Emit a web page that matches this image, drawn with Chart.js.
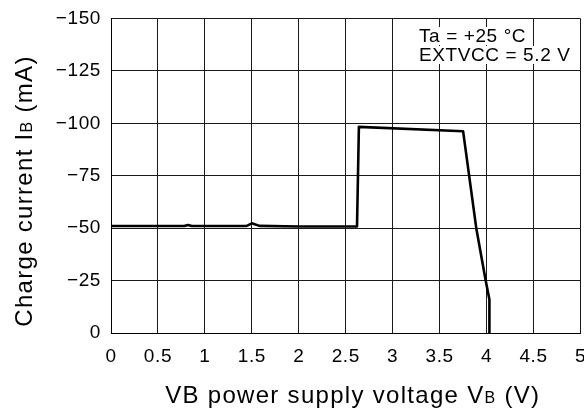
<!DOCTYPE html>
<html>
<head>
<meta charset="utf-8">
<script src="https://cdn.jsdelivr.net/npm/chart.js@4/dist/chart.umd.min.js"></script>
<style>
  html, body { margin: 0; padding: 0; background: #fff; }
  #wrap { width: 584px; height: 413px; position: relative; }
</style>
</head>
<body>
<div id="wrap"><canvas id="chart"></canvas></div>
<script>
// charge current vs supply voltage
const voltage = [0, 0.78, 0.82, 0.86, 1.44, 1.5, 1.58, 2.0, 2.62, 2.64, 3.75, 3.89, 3.99, 4.03, 4.03]
const current = [-51, -51, -51.5, -51, -51, -52.3, -51.1, -50.8, -50.8, -98.3, -96.2, -50, -25, -16, 0]
const xTicks = [0, 0.5, 1, 1.5, 2, 2.5, 3, 3.5, 4, 4.5, 5]
const yTicks = [0, -25, -50, -75, -100, -125, -150]
const noteLines = ['Ta = +25 °C', 'EXTVCC = 5.2 V']

const FONT = '"Liberation Sans", Arial, sans-serif'
const points = voltage.map(function(v, i) { return { x: v, y: current[i] } })

function minus(v) {
  return String(v).replace('-', '\u2212')
}

// slightly wider lettering for every label on the canvas
const spacing = {
  id: 'spacing',
  beforeLayout: function(chart) { chart.ctx.letterSpacing = '0.6px' },
  beforeDraw: function(chart) { chart.ctx.letterSpacing = '0.6px' }
}

// axis titles with a small "B" subscript, plus the conditions note
const annotations = {
  id: 'annotations',
  afterDatasetsDraw: function(chart) {
    const ctx = chart.ctx
    const area = chart.chartArea
    ctx.save()
    ctx.fillStyle = '#000'
    ctx.textBaseline = 'alphabetic'

    // note in the upper right corner
    ctx.font = '19px ' + FONT
    ctx.letterSpacing = '0.6px'
    var ny = [42, 61]
    noteLines.forEach(function(t, i) {
      var w = ctx.measureText(t).width
      ctx.fillStyle = '#fff'
      ctx.fillRect(418, ny[i] - 15, w + 2, 18)
      ctx.fillStyle = '#000'
      ctx.fillText(t, 419, ny[i])
    })

    function drawTitle(parts, big, small) {
      var w = 0
      parts.forEach(function(p) {
        ctx.font = (p.sub ? small : big) + 'px ' + FONT
        w += ctx.measureText(p.t).width
      })
      var x = -w / 2
      parts.forEach(function(p) {
        ctx.font = (p.sub ? small : big) + 'px ' + FONT
        ctx.fillText(p.t, x, 0)
        x += ctx.measureText(p.t).width
      })
    }

    ctx.letterSpacing = '1.3px'

    // x title
    ctx.save()
    ctx.translate((area.left + area.right) / 2 + 7, 403)
    drawTitle([
      { t: 'VB power supply voltage V' },
      { t: 'B', sub: true },
      { t: ' (V)' }
    ], 24, 16)
    ctx.restore()

    // y title
    ctx.save()
    ctx.translate(32, 191)
    ctx.rotate(-Math.PI / 2)
    drawTitle([
      { t: 'Charge current I' },
      { t: 'B', sub: true },
      { t: ' (mA)' }
    ], 24, 16)
    ctx.restore()

    ctx.restore()
  }
}

const ctx = document.getElementById('chart').getContext('2d')
new Chart(ctx, {
  type: 'scatter',
  data: {
    datasets: [{
      data: points,
      showLine: true,
      borderColor: '#000',
      borderWidth: 2.6,
      pointRadius: 0,
      tension: 0,
      borderJoinStyle: 'round'
    }]
  },
  options: {
    responsive: true,
    maintainAspectRatio: false,
    animation: false,
    layout: { padding: { left: 0, right: 3.5, top: 18.5, bottom: 0 } },
    plugins: {
      legend: { display: false },
      tooltip: { enabled: false }
    },
    scales: {
      x: {
        type: 'linear',
        min: 0,
        max: 5,
        afterBuildTicks: function(axis) {
          axis.ticks = xTicks.map(function(v) { return { value: v } })
        },
        afterFit: function(axis) {
          axis.height = 80
          axis.paddingLeft = 0
          axis.paddingRight = 0
        },
        grid: { color: '#1a1a1a', lineWidth: 1, drawTicks: false },
        border: { color: '#000', width: 1 },
        ticks: {
          color: '#000',
          font: { family: FONT, size: 19 },
          padding: 12,
          maxRotation: 0,
          autoSkip: false,
          callback: function(v) { return String(v) }
        }
      },
      y: {
        type: 'linear',
        min: -150,
        max: 0,
        reverse: true,
        afterBuildTicks: function(axis) {
          axis.ticks = yTicks.map(function(v) { return { value: v } })
        },
        afterFit: function(axis) {
          axis.width = 111
          axis.paddingTop = 0
          axis.paddingBottom = 0
        },
        grid: { color: '#1a1a1a', lineWidth: 1, drawTicks: false },
        border: { color: '#000', width: 1 },
        ticks: {
          color: '#000',
          font: { family: FONT, size: 19 },
          padding: 10,
          autoSkip: false,
          callback: function(v) { return minus(v) }
        }
      }
    }
  },
  plugins: [spacing, annotations]
})
</script>
</body>
</html>
